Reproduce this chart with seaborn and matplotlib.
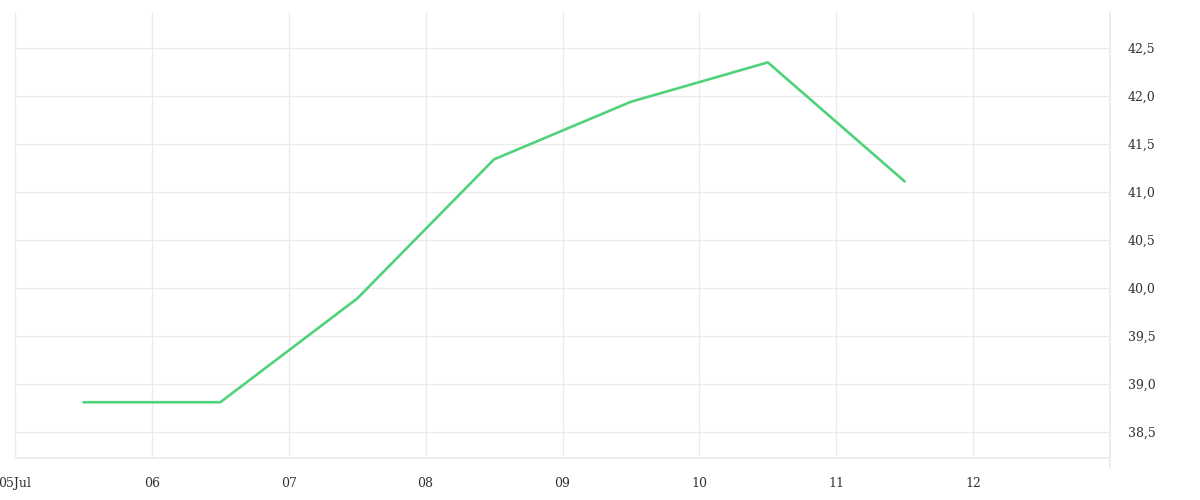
import pandas as pd
import seaborn as sns
import matplotlib.pyplot as plt
import matplotlib.dates as mdates
from matplotlib.ticker import FuncFormatter


# DATA

timestamps = [
    "2023-07-05 12:00", "2023-07-06 12:00", "2023-07-07 12:00",
    "2023-07-08 12:00", "2023-07-09 12:00", "2023-07-10 12:00",
    "2023-07-11 12:00",
]
values = [38.81, 38.81, 39.89, 41.34, 41.94, 42.35, 41.11]

tick_days = ["2023-07-05", "2023-07-06", "2023-07-07", "2023-07-08",
             "2023-07-09", "2023-07-10", "2023-07-11", "2023-07-12"]
tick_labels = ["05Jul", "06", "07", "08", "09", "10", "11", "12"]
y_ticks = [38.5, 39.0, 39.5, 40.0, 40.5, 41.0, 41.5, 42.0, 42.5]


# PLOT

GRID = "#ebebeb"
TEXT = "#333333"

sns.set_theme(style="white")
plt.rcParams["font.family"] = ["DejaVu Serif"]

df = pd.DataFrame({"time": pd.to_datetime(timestamps), "value": values})

fig = plt.figure(figsize=(12, 5), dpi=100)
ax = fig.add_axes([0.0125, 0.084, 0.9125, 0.892])

sns.lineplot(data=df, x="time", y="value", ax=ax, color="#50d27a",
             linewidth=1.9)

ax.set_xlim(pd.Timestamp("2023-07-05"), pd.Timestamp("2023-07-13"))
ax.set_ylim(38.229, 42.875)

ax.set_xticks(pd.to_datetime(tick_days))
ax.set_xticklabels(tick_labels)
ax.set_yticks(y_ticks)
ax.yaxis.set_major_formatter(FuncFormatter(lambda v, p: f"{v:.1f}".replace(".", ",")))
ax.yaxis.tick_right()

ax.grid(True, color=GRID, linewidth=1)
ax.tick_params(axis="x", length=7.5, width=1, color=GRID, labelsize=9,
               labelcolor=TEXT, pad=6)
ax.tick_params(axis="y", length=0, labelsize=9, labelcolor=TEXT, pad=13)

for side in ["top", "left"]:
    ax.spines[side].set_visible(False)
ax.spines["bottom"].set_color(GRID)
ax.spines["right"].set_color(GRID)
ax.spines["right"].set_bounds(38.229 - 0.104, 42.875)

ax.set_xlabel("")
ax.set_ylabel("")

fig.savefig("out.png", dpi=100)
